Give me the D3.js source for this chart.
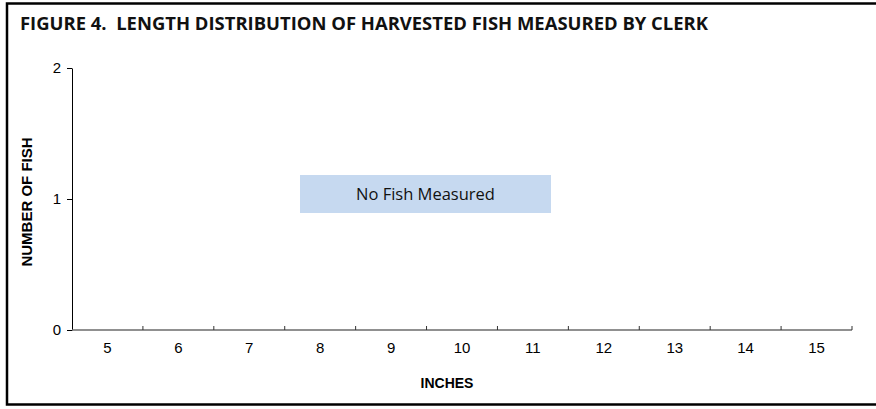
<!DOCTYPE html>
<html>
<head>
<meta charset="utf-8">
<script src="https://cdn.jsdelivr.net/npm/d3@7"></script>
<style>
  html, body { margin: 0; background: #fff; overflow: hidden; }
  svg { display: block; }
</style>
</head>
<body>
<div id="chart"></div>
<script>
const title = "FIGURE 4.  LENGTH DISTRIBUTION OF HARVESTED FISH MEASURED BY CLERK";
const inches = [5, 6, 7, 8, 9, 10, 11, 12, 13, 14, 15];
const fishCounts = [0, 0, 0, 0, 0, 0, 0, 0, 0, 0, 0];
const yTicks = [0, 1, 2];
const note = "No Fish Measured";

const width = 876;
const height = 409;
const plot = { left: 72, right: 852, top: 68, bottom: 330 };

const svg = d3
  .select("#chart")
  .append("svg")
  .attr("width", width)
  .attr("height", height);

svg
  .append("rect")
  .attr("width", width)
  .attr("height", height)
  .attr("fill", "#fff");

// outer frame, right edge runs off the picture
svg
  .append("rect")
  .attr("x", 7)
  .attr("y", 3.5)
  .attr("width", width + 20)
  .attr("height", 401)
  .attr("fill", "none")
  .attr("stroke", "#000")
  .attr("stroke-width", 2.5);

// title, squeezed to the width of the original
svg
  .append("text")
  .attr("x", 20)
  .attr("y", 30)
  .attr("font-family", "'Open Sans', sans-serif")
  .attr("font-weight", "bold")
  .attr("font-size", 18)
  .attr("fill", "#111")
  .style("white-space", "pre")
  .attr("textLength", 688)
  .attr("lengthAdjust", "spacingAndGlyphs")
  .text(title);

const x = d3
  .scaleBand()
  .domain(inches)
  .range([plot.left, plot.right])
  .padding(0);

const y = d3
  .scaleLinear()
  .domain([0, 2])
  .range([plot.bottom, plot.top]);

// bars (all zero, nothing measured)
svg
  .append("g")
  .selectAll("rect")
  .data(fishCounts)
  .enter()
  .append("rect")
  .attr("x", (d, i) => x(inches[i]) + x.bandwidth() * 0.2)
  .attr("y", (d) => y(d))
  .attr("width", x.bandwidth() * 0.6)
  .attr("height", (d) => y(0) - y(d))
  .attr("fill", "#4f81bd");

// y axis
const yAxis = svg
  .append("g")
  .attr("transform", `translate(${plot.left},0)`)
  .call(d3.axisLeft(y).tickValues(yTicks).tickFormat(d3.format("d")).tickSize(5).tickSizeOuter(0));
yAxis.select(".domain").attr("stroke", "#000");
yAxis.selectAll(".tick line").attr("stroke", "#000");
yAxis
  .selectAll(".tick text")
  .attr("x", -11)
  .attr("font-family", "'Liberation Sans', Arial, sans-serif")
  .attr("font-size", 15)
  .attr("fill", "#000");

// x axis with ticks between categories
const xAxis = svg
  .append("g")
  .attr("transform", `translate(0,${plot.bottom})`);
xAxis
  .append("line")
  .attr("x1", plot.left)
  .attr("x2", plot.right)
  .attr("stroke", "#6b6b6b")
  .attr("stroke-width", 1.3);
const bounds = inches.slice(1).map((d) => x(d)).concat([plot.right]);
xAxis
  .selectAll(".sep")
  .data(bounds)
  .enter()
  .append("line")
  .attr("class", "sep")
  .attr("x1", (d) => d)
  .attr("x2", (d) => d)
  .attr("y1", 0)
  .attr("y2", -4)
  .attr("stroke", "#333");
xAxis
  .selectAll(".lbl")
  .data(inches)
  .enter()
  .append("text")
  .attr("class", "lbl")
  .attr("x", (d) => x(d) + x.bandwidth() / 2)
  .attr("y", 23)
  .attr("text-anchor", "middle")
  .attr("font-family", "'Liberation Sans', Arial, sans-serif")
  .attr("font-size", 15)
  .attr("fill", "#000")
  .text((d) => d);

// axis titles
svg
  .append("text")
  .attr("x", 447)
  .attr("y", 388)
  .attr("text-anchor", "middle")
  .attr("font-family", "'Liberation Sans', Arial, sans-serif")
  .attr("font-weight", "bold")
  .attr("font-size", 14)
  .attr("fill", "#000")
  .text("INCHES");

svg
  .append("text")
  .attr("transform", "translate(32,202) rotate(-90)")
  .attr("text-anchor", "middle")
  .attr("font-family", "'Liberation Sans', Arial, sans-serif")
  .attr("font-weight", "bold")
  .attr("font-size", 15)
  .attr("fill", "#000")
  .text("NUMBER OF FISH");

// note box
svg
  .append("rect")
  .attr("x", 300)
  .attr("y", 175)
  .attr("width", 251)
  .attr("height", 38)
  .attr("fill", "#c6d9f0");
svg
  .append("text")
  .attr("x", 425.5)
  .attr("y", 200)
  .attr("text-anchor", "middle")
  .attr("font-family", "'Open Sans', sans-serif")
  .attr("font-size", 16.5)
  .attr("fill", "#111")
  .text(note);
</script>
</body>
</html>
